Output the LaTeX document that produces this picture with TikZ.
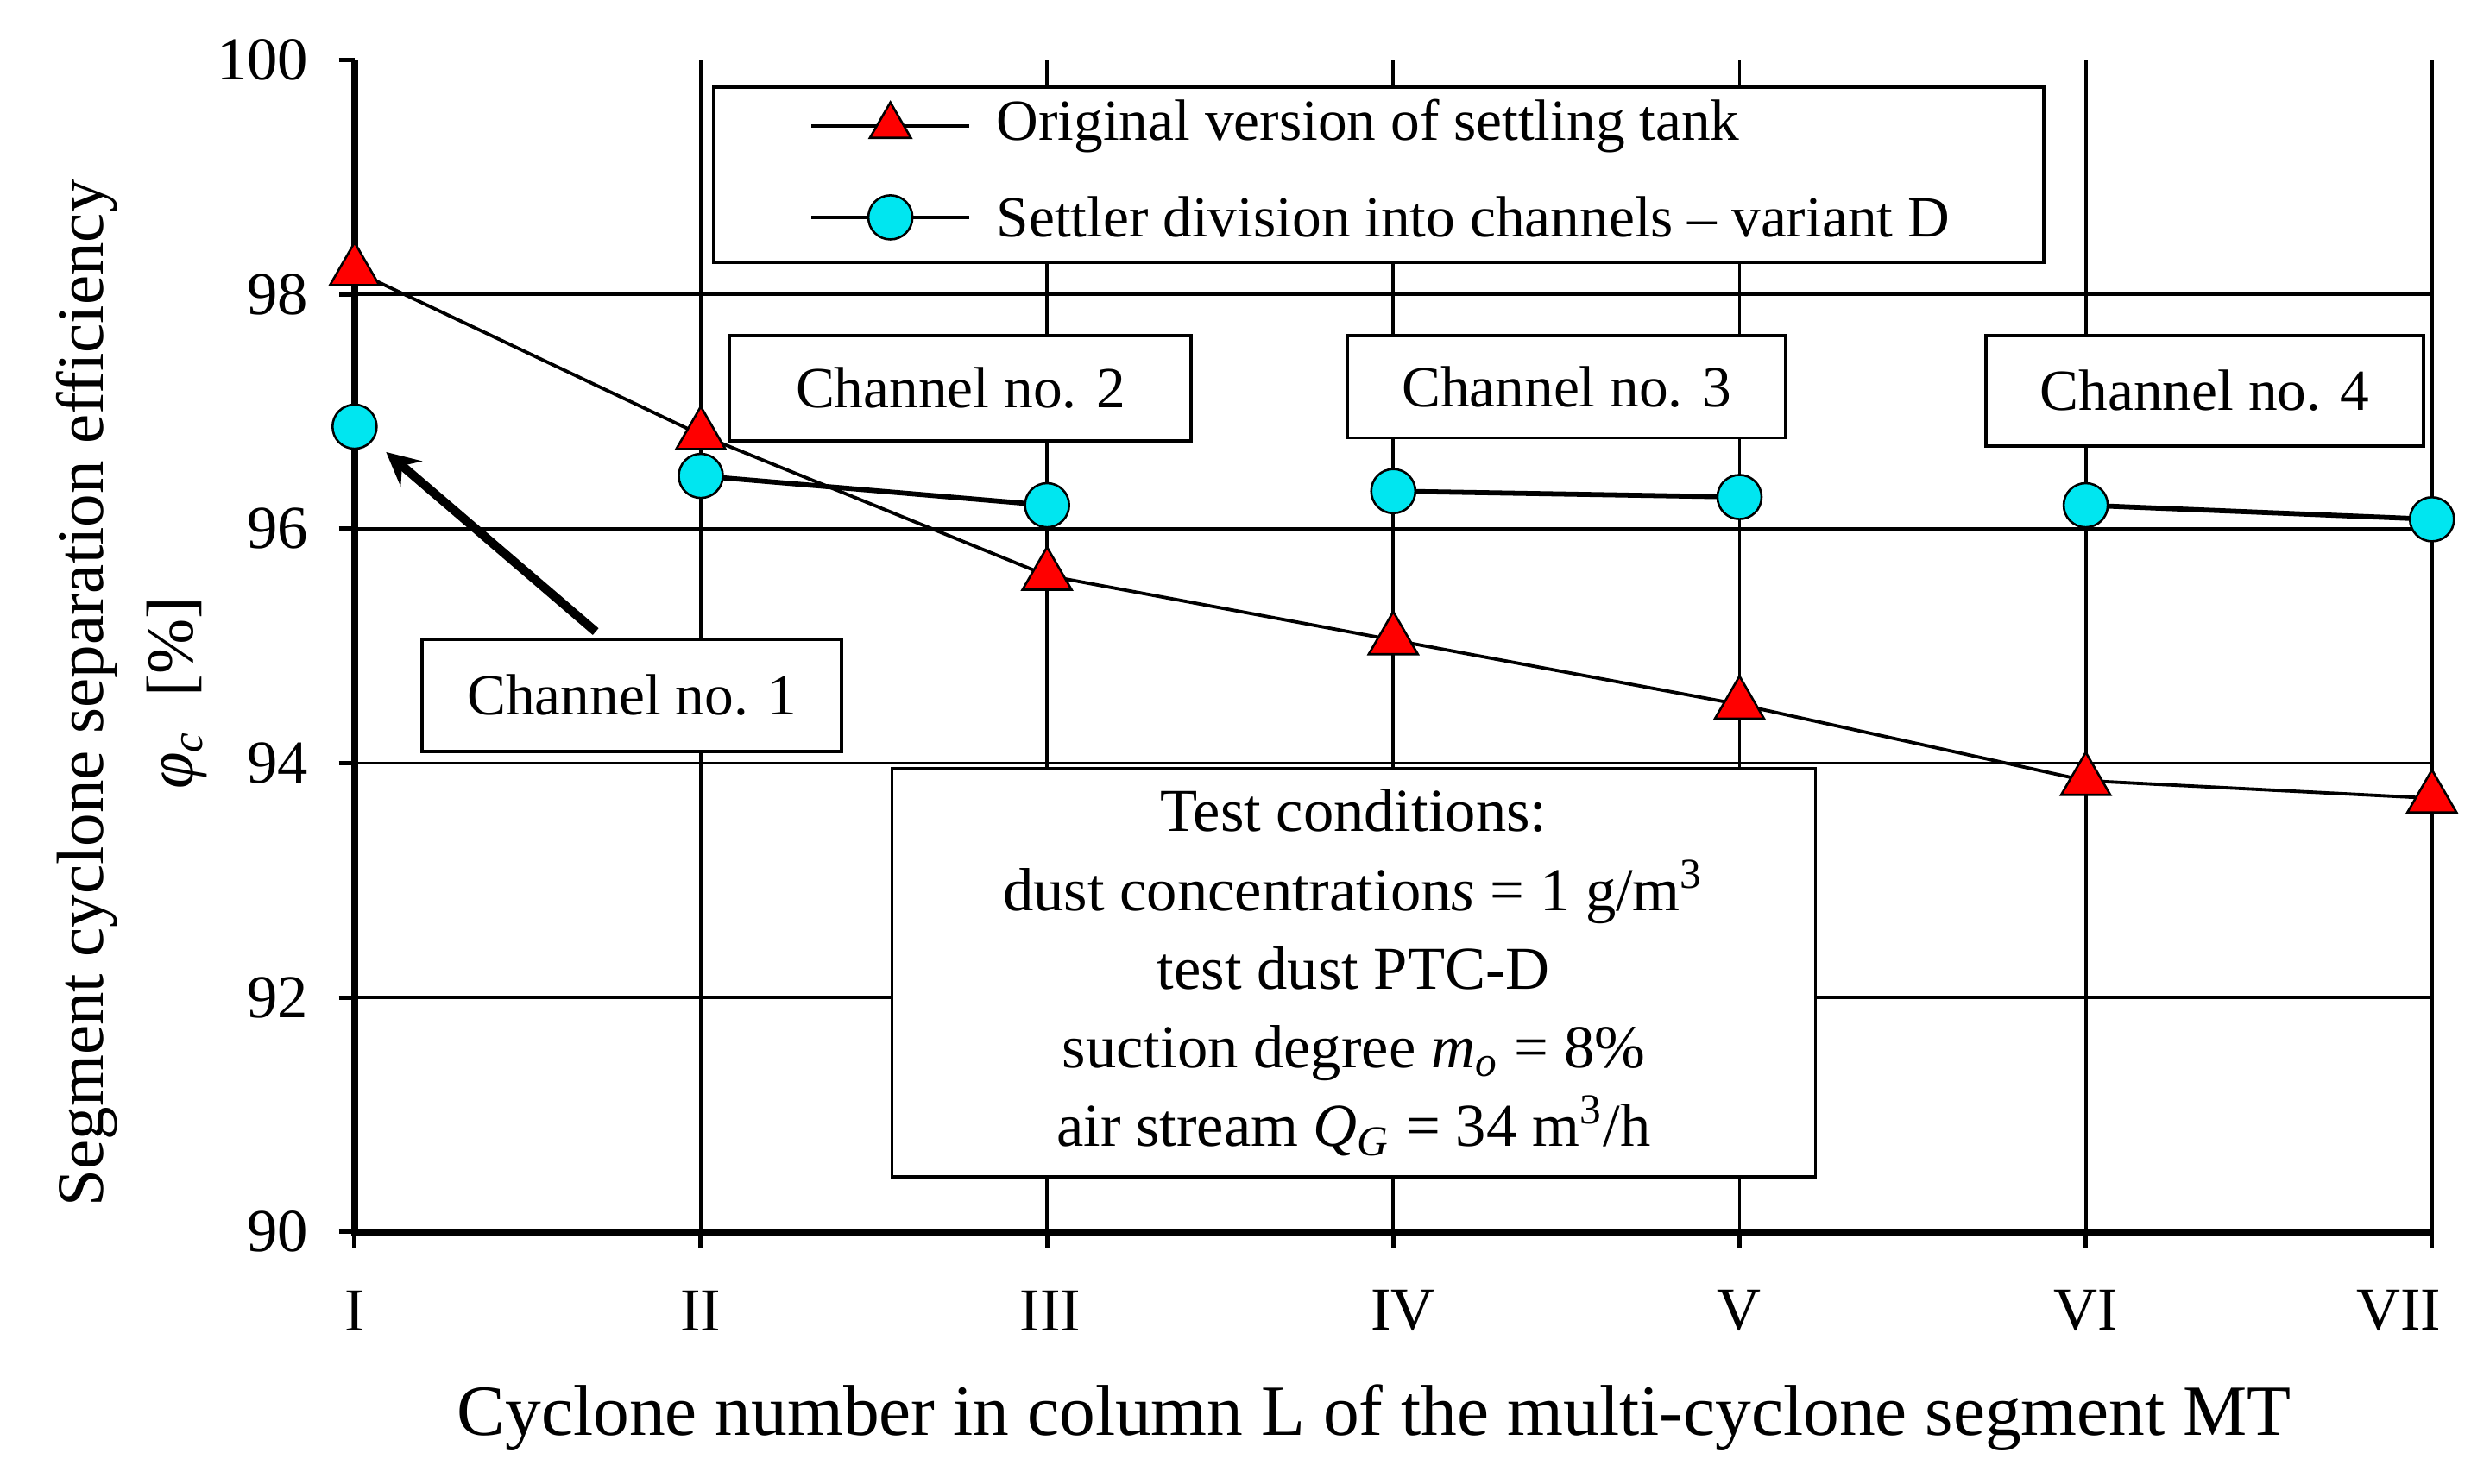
\documentclass[tikz,border=0pt]{standalone}
\usepackage{fontspec}
\setmainfont{Liberation Serif}
\usetikzlibrary{shapes.geometric, arrows, positioning, calc}
\definecolor{markred}{RGB}{255, 0, 0}
\definecolor{markcyan}{RGB}{0, 230, 240}

\begin{document}
\begin{tikzpicture}[x=1cm, y=1cm,
    box/.style={rectangle, draw, fill=white, line width=0.6pt, align=center, font=\fontsize{10.5}{12}\selectfont},
    tri/.style={regular polygon, regular polygon sides=3, draw, fill=markred, inner sep=0pt, minimum size=0.36cm},
    circ/.style={circle, draw, fill=markcyan, inner sep=0pt, minimum size=0.28cm},
    grid/.style={line width=0.6pt},
    arrow/.style={-stealth, line width=1.6pt}
]
    \useasboundingbox (0,0) rectangle (15.68,9.42);
    % grid
    \foreach \v in {92,94,96,98}
        \draw[grid] (2.25,{1.60+(\v-90)*0.744}) -- (15.43,{1.60+(\v-90)*0.744});
    \foreach \i/\t in {1/I,2/II,3/III,4/IV,5/V,6/VI,7/VII} {
        \draw[grid] ({2.25+(\i-1)*2.197},1.60) -- ({2.25+(\i-1)*2.197},9.04);
        \draw[line width=0.8pt] ({2.25+(\i-1)*2.197},1.60) -- ({2.25+(\i-1)*2.197},1.50);
    }
    \foreach \i/\t/\dx in {1/I/0,2/II/0,3/III/0.02,4/IV/0.06,5/V/0,6/VI/0,7/VII/-0.21}
        \node[font=\fontsize{11}{13}\selectfont] (x\i) at ({2.25+(\i-1)*2.197+\dx},1.10) {\t};
    % axes
    \draw[line width=1.2pt] (2.25,9.04) -- (2.25,1.60) -- (15.43,1.60);
    \foreach \v in {90,92,...,100} {
        \draw[line width=0.8pt] (2.15,{1.60+(\v-90)*0.744}) -- (2.25,{1.60+(\v-90)*0.744});
        \node[font=\fontsize{11}{13}\selectfont, anchor=east] (y\v) at (2.08,{1.60+(\v-90)*0.744}) {\v};
    }
    \node[font=\fontsize{13}{15}\selectfont] (xlab) at (8.72,0.42) {Cyclone number in column L of the multi-cyclone segment MT};
    \node[font=\fontsize{12}{14}\selectfont, rotate=90] (ylab) at (0.55,5.02) {Segment cyclone separation efficiency};
    \node[font=\fontsize{12}{14}\selectfont, rotate=90] (ylab2) at (1.12,5.02) {\textit{φ}\textsubscript{\textit{c}}\ \ [\%]};
    % original version
    \foreach \i/\v in {1/98.2,2/96.8,3/95.6,4/95.05,5/94.5,6/93.85,7/93.7}
        \coordinate (t\i) at ({2.25+(\i-1)*2.197},{1.60+(\v-90)*0.744});
    \draw[line width=0.6pt] (t1) -- (t2) -- (t3) -- (t4) -- (t5) -- (t6) -- (t7);
    \foreach \i in {1,...,7}
        \node[tri] (tm\i) at (t\i) {};
    % variant D
    \foreach \i/\v in {1/96.87,2/96.45,3/96.2,4/96.32,5/96.27,6/96.2,7/96.08}
        \coordinate (c\i) at ({2.25+(\i-1)*2.197},{1.60+(\v-90)*0.744});
    \draw[line width=0.9pt] (c2) -- (c3);
    \draw[line width=0.9pt] (c4) -- (c5);
    \draw[line width=0.9pt] (c6) -- (c7);
    \foreach \i in {1,...,7}
        \node[circ] (cm\i) at (c\i) {};
    % legend
    \node[box, minimum width=8.44cm, minimum height=1.11cm] (legend) at (8.75,8.31) {};
    \coordinate (la) at (5.15,8.62);
    \coordinate (lb) at (6.15,8.62);
    \draw[line width=0.6pt] (la) -- (lb);
    \node[tri, minimum size=0.3cm] (ltri) at ($(la)!0.5!(lb)$) {};
    \node[font=\fontsize{10.5}{12}\selectfont, anchor=west] (ltxt1) at (6.2,8.62) {Original version of settling tank};
    \coordinate (lc) at (5.15,8.04);
    \coordinate (ld) at (6.15,8.04);
    \draw[line width=0.6pt] (lc) -- (ld);
    \node[circ] (lcirc) at ($(lc)!0.5!(ld)$) {};
    \node[font=\fontsize{10.5}{12}\selectfont, anchor=west] (ltxt2) at (6.2,8.04) {Settler division into channels -- variant D};
    % channels
    \node[box, minimum width=2.93cm, minimum height=0.67cm] (ch2) at (6.095,6.955) {Channel no. 2};
    \node[box, minimum width=2.78cm, minimum height=0.65cm] (ch3) at (9.94,6.965) {Channel no. 3};
    \node[box, minimum width=2.78cm, minimum height=0.70cm] (ch4) at (13.99,6.94) {Channel no. 4};
    \node[box, minimum width=2.66cm, minimum height=0.71cm] (ch1) at (4.01,5.005) {Channel no. 1};
    \coordinate (arrtip) at (2.45,6.55);
    \draw[arrow] ($(ch1.north)+(-0.23,0.04)$) -- (arrtip);
    % test conditions
    \node[box, minimum width=5.86cm, minimum height=2.59cm, font=\fontsize{11}{14.2}\selectfont] (cond) at (8.59,3.245)
        {Test conditions:\\ dust concentration\textit{s} = 1 g/m\textsuperscript{3}\\ test dust PTC-D\\ suction degree \textit{m}\textsubscript{\textit{o}} = 8\%\\ air stream \textit{Q}\textsubscript{\textit{G}} = 34 m\textsuperscript{3}/h};
\end{tikzpicture}
\end{document}
